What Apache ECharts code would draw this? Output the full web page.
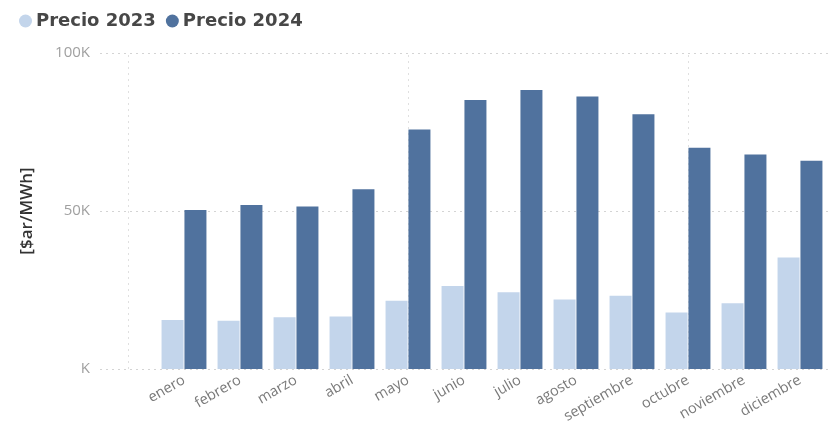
<!DOCTYPE html>
<html><head><meta charset="utf-8">
<script src="https://cdn.jsdelivr.net/npm/echarts@6/dist/echarts.min.js"></script>
<style>html,body{margin:0;padding:0;background:#fff}#c{width:835px;height:434px}</style>
</head><body><div id="c"></div>
<script>
const months = ['enero','febrero','marzo','abril','mayo','junio','julio','agosto','septiembre','octubre','noviembre','diciembre'];
const precio2023 = [15500,15300,16400,16600,21600,26300,24300,22000,23200,17900,20800,35300];
const precio2024 = [50300,51900,51400,56900,75800,85100,88300,86200,80600,70000,67900,65900];
const yTicks = [0,50000,100000];

const cats = [''].concat(months);
const chart = echarts.init(document.getElementById('c'));
chart.setOption({
  animation:false,
  textStyle:{fontFamily:'Open Sans'},
  legend:{
    left:14, top:7, icon:'circle', itemWidth:13, itemHeight:13, itemGap:10,
    textStyle:{fontFamily:'DejaVu Sans', fontWeight:'bold', fontSize:18, color:'#474747', padding:[0,0,0,-1]},
    data:['Precio 2023','Precio 2024']
  },
  grid:{left:100, right:7, top:53, bottom:65, containLabel:false},
  xAxis:{
    type:'category', data:cats,
    axisLine:{show:false}, axisTick:{show:false},
    axisLabel:{rotate:30, interval:0, fontSize:14.5, color:'#7a7a7a', margin:10, fontFamily:'Open Sans'}
  },
  yAxis:{
    type:'value', min:0, max:yTicks[yTicks.length-1], interval:yTicks[1]-yTicks[0],
    name:'[$ar/MWh]', nameLocation:'middle', nameGap:64, nameRotate:90,
    nameTextStyle:{fontSize:17, color:'#333', fontWeight:600, fontFamily:'Open Sans'},
    axisLine:{show:false}, axisTick:{show:false},
    axisLabel:{fontSize:15, color:'#a0a0a0', margin:10, formatter:v=> (v===0?'':v/1000)+'K'},
    splitLine:{lineStyle:{type:[2,4], color:'#d4d4d4', width:1}}
  },
  series:[
    {name:'Precio 2023', type:'bar', z:10, data:[null].concat(precio2023), barWidth:22, barGap:'4%',
     itemStyle:{color:'#c3d5eb'}},
    {name:'Precio 2024', type:'bar', z:10, data:[null].concat(precio2024), barWidth:22,
     itemStyle:{color:'#50729e'}},
    {name:'guides', type:'line', z:1, data:[], silent:true, legendHoverLink:false,
     markLine:{silent:true, symbol:'none', label:{show:false},
       lineStyle:{type:[2,4], color:'#e0e0e0', width:1},
       data:[{xAxis:''},{xAxis:'mayo'},{xAxis:'octubre'}]}}
  ]
});
</script></body></html>
